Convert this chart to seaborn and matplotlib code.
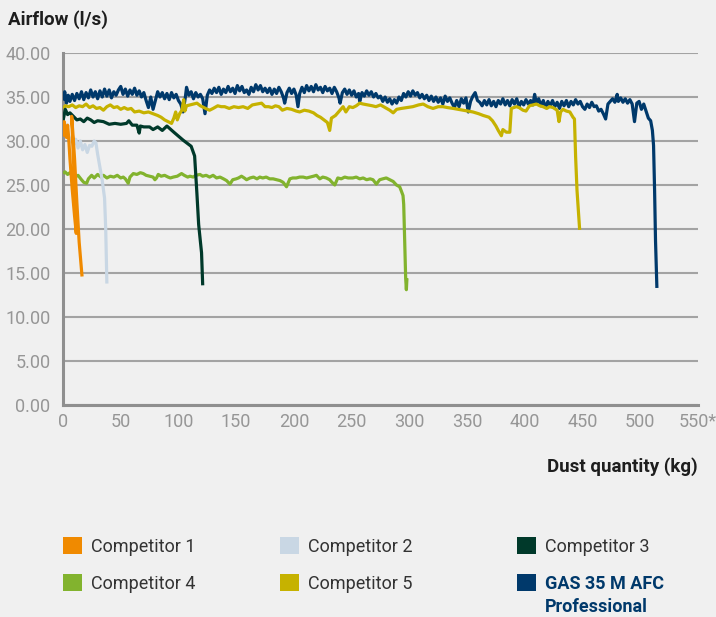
import matplotlib
matplotlib.use("Agg")
import matplotlib.pyplot as plt
from matplotlib.patches import Patch
import numpy as np
import pandas as pd
import seaborn as sns

# ---------------- data ----------------
series_names = ["Competitor 1", "Competitor 2", "Competitor 3",
                "Competitor 4", "Competitor 5", "GAS 35 M AFC"]
colors = ["#F08A00", "#C9D7E4", "#00392A", "#82B32E", "#C6B200", "#00396B"]

x_ticks = [0, 50, 100, 150, 200, 250, 300, 350, 400, 450, 500, 550]
x_tick_labels = ["0", "50", "100", "150", "200", "250", "300", "350",
                 "400", "450", "500", "550*"]
y_ticks = [0, 5, 10, 15, 20, 25, 30, 35, 40]

c1_kg = [0, 1, 2, 3, 4, 5, 6, 8, 10, 11.5, 9.5, 7.5, 8.5, 10, 12, 14, 16.5]
c1_flow = [30.5, 32.2, 31.0, 30.4, 31.8, 30.2, 28.0, 24.5, 21.5, 19.5,
           26.5, 32.8, 31.0, 28.0, 23.0, 18.5, 14.6]

c2_kg = [0, 1.5, 3, 5, 7, 9, 11, 13, 15, 17, 19, 21, 23, 25, 27, 28.5,
         30, 32, 34, 36, 37, 38]
c2_flow = [31.0, 32.0, 31.5, 30.5, 30.0, 29.5, 30.2, 29.2, 30.0, 29.0,
           29.6, 28.7, 29.5, 29.4, 30.0, 29.8, 28.5, 27.0, 25.5, 23.5,
           20.0, 13.8]

c3_kg = [0, 2, 4, 6, 9, 12, 15, 18, 21, 24, 27, 30, 35, 40, 45, 50, 55, 57,
         60, 64, 66, 67, 70, 75, 78, 82, 86, 90, 96, 104, 111, 114, 116,
         117.5, 120, 121]
c3_flow = [32.3, 33.6, 33.0, 33.2, 32.8, 32.4, 32.5, 32.2, 32.6, 32.4, 32.1,
           32.3, 32.2, 31.9, 32.0, 31.9, 32.0, 32.3, 31.8, 31.8, 30.9, 31.7,
           31.6, 31.6, 31.3, 31.6, 31.2, 31.7, 31.0, 30.1, 29.4, 28.3, 24.0,
           20.5, 17.3, 13.6]

c4_kg = [0, 1.7, 4, 6, 8, 10.4, 13, 16, 18, 20.5, 22, 24.8, 27, 30, 33, 35,
         38, 41, 44, 47, 50, 52.2, 54, 56.5, 58, 60.9, 64, 67, 69.5, 72, 75,
         78, 79.6, 81, 82.5, 85, 88, 91, 93, 95.5, 99, 102.7, 105, 108, 110,
         112.8, 115, 118.6, 121, 124, 127, 130, 133, 136, 139, 141.7, 144.6,
         147, 150, 152, 154.6, 157, 159, 162, 165, 168, 170.5, 173, 176, 179,
         182, 185, 188, 190.7, 193.6, 196.5, 199, 202, 205, 208, 211, 214,
         217, 219.5, 222.4, 225, 228, 231, 233, 235.4, 238, 241, 244, 247,
         251, 254, 257, 260, 263, 266, 268.5, 271.4, 274.3, 277, 280, 283,
         286, 288.8, 291.6, 293.1, 294.5, 295.1, 296, 296.8, 297.4, 297.9]
c4_flow = [26.3, 26.5, 26.2, 26.4, 26.0, 25.9, 26.1, 25.6, 25.3, 25.2, 25.7,
           26.1, 25.8, 26.2, 25.9, 26.1, 25.8, 26.0, 25.9, 26.1, 25.8, 25.9,
           25.7, 25.2, 25.9, 26.3, 26.2, 26.4, 26.3, 26.1, 26.0, 25.9, 25.6,
           25.8, 26.2, 26.0, 26.1, 25.9, 25.8, 25.9, 26.0, 26.3, 26.1, 25.9,
           26.0, 25.9, 26.1, 26.2, 26.0, 26.1, 25.9, 26.1, 25.8, 25.9, 25.7,
           25.5, 25.1, 25.6, 25.7, 25.8, 26.0, 25.8, 25.6, 25.8, 25.9, 25.7,
           25.9, 25.8, 25.9, 25.7, 25.7, 25.6, 25.5, 25.3, 24.8, 25.7, 25.8,
           25.8, 25.9, 25.9, 25.8, 25.9, 26.0, 26.1, 25.7, 25.9, 25.8, 25.6,
           25.3, 25.0, 25.8, 25.7, 25.9, 25.8, 25.8, 25.9, 25.7, 25.8, 25.6,
           25.7, 25.6, 25.1, 25.6, 25.7, 25.8, 25.6, 25.4, 25.0, 24.8, 24.3,
           23.8, 22.8, 18.4, 14.4, 13.1, 14.4]

c5_kg = [0, 2, 5, 8, 11, 14, 17, 20, 23, 26, 29, 32, 35, 38, 41, 44, 47, 50,
         53, 56, 59, 62, 66, 70, 74, 78, 82, 85, 88, 91, 94, 96, 97.6, 99,
         101, 103, 104.5, 105.5, 107, 110, 113, 116, 119, 122, 125, 127, 130,
         134, 137, 140, 144, 148, 152, 156, 160, 164, 168, 172, 175, 178,
         181, 184, 187, 190, 194, 198, 202, 205, 209, 213, 217, 220, 223,
         226, 229, 231, 232.5, 236, 240, 242.6, 245, 248, 251, 254, 257, 260,
         264, 268, 271, 275, 279, 283, 286, 289, 293, 298, 303, 308, 312,
         316, 320.5, 325, 329, 333, 338, 342, 346.5, 351, 355, 360, 364, 369,
         372, 375, 377, 379.7, 381, 384, 387, 388.3, 392.6, 395, 398.4, 401,
         404, 410, 413, 415.7, 419, 421.5, 424.4, 428, 429.6, 431, 433, 436,
         439, 441.7, 443, 444, 445.2, 447.5]
c5_flow = [33.7, 34.0, 33.9, 34.1, 33.8, 34.0, 33.9, 34.2, 33.8, 34.0, 33.7,
           33.8, 33.5, 33.9, 34.1, 33.8, 33.9, 33.6, 33.8, 33.6, 33.7, 33.3,
           33.4, 33.2, 33.3, 33.1, 32.9, 32.7, 32.4, 32.2, 32.0, 32.6, 33.3,
           32.4, 33.1, 33.5, 34.7, 33.4, 34.0, 34.1, 34.2, 34.3, 34.0, 33.8,
           33.6, 33.5, 33.7, 34.0, 33.9, 33.9, 33.7, 33.9, 33.8, 33.9, 33.7,
           34.1, 34.2, 34.3, 33.9, 33.9, 33.8, 34.0, 33.9, 33.5, 33.7, 33.6,
           33.4, 33.3, 33.5, 33.4, 33.2, 32.9, 32.7, 32.4, 32.1, 31.2, 32.6,
           32.9, 33.5, 33.9, 33.3, 33.9, 33.8, 34.0, 34.3, 34.2, 34.1, 34.0,
           33.9, 34.1, 33.8, 33.5, 33.2, 33.6, 33.7, 33.8, 33.9, 34.1, 34.2,
           33.9, 33.7, 33.9, 33.9, 33.8, 33.7, 33.6, 33.5, 33.4, 33.3, 33.1,
           32.9, 32.7, 32.3, 31.7, 31.2, 30.6, 31.3, 31.0, 31.0, 33.7, 33.9,
           33.8, 33.5, 33.4, 34.0, 34.2, 34.0, 33.9, 33.7, 33.9, 33.8, 33.5,
           32.2, 33.3, 33.6, 33.4, 33.3, 32.7, 32.5, 28.2, 24.4, 19.9]

gas_kg = [0, 1.5, 3, 4.5, 6, 8, 10, 12, 14, 16, 18, 20, 22, 24, 26, 28, 30,
          32, 34, 36, 38, 40, 42, 44, 46, 48, 50, 52, 54, 56, 58, 60, 62, 64,
          66, 68, 70, 72, 74, 76, 78, 80, 82, 84, 86, 88, 90, 92, 94, 96, 98,
          100, 102, 104, 106, 107, 109, 111, 113, 115, 117, 119, 121, 123,
          125, 127, 129, 131, 133, 135, 137, 139, 141, 143, 145, 147, 149,
          151, 153, 155, 157, 159, 161, 163, 165, 167, 169, 171, 173, 175,
          177, 179, 181, 183, 185, 187, 189, 191, 192, 194, 196, 198, 200,
          202, 203.5, 205, 207, 209, 211, 213, 215, 217, 219, 221, 223, 225,
          227, 229, 231, 233, 235, 237, 239, 240, 242, 244, 246, 248, 250,
          252, 254, 256, 257, 259, 261, 263, 265, 267, 269, 271, 273, 275,
          277, 279, 281, 283, 285, 287, 289, 291, 293, 295, 297, 299, 301,
          303, 305, 307, 309, 311, 313, 315, 317, 319, 321, 323, 325, 327,
          329, 331, 333, 335, 337, 339, 341, 343, 345, 347, 349, 351, 353,
          355, 357, 359, 361, 363, 365, 367, 369, 371, 373, 375, 377, 379,
          381, 383, 385, 387, 389, 391, 393, 395, 397, 399, 401, 403, 405,
          407, 408.5, 410, 412, 414, 416, 418, 420, 422, 424, 426, 428, 430,
          432, 434, 436, 438, 440, 442, 444, 446, 448, 450, 452, 454, 456,
          458, 460, 462, 464, 466, 468, 470, 472, 474, 476, 478, 480, 481,
          483, 485, 487, 489, 491, 493, 495, 497, 499, 501, 503, 505, 507,
          509, 510.5, 511.5, 512.4, 513.2, 514.4]
gas_flow = [34.6, 35.6, 34.3, 35.2, 34.5, 35.3, 34.6, 35.4, 34.8, 35.6, 34.7,
            35.5, 34.9, 35.8, 35.0, 35.6, 34.8, 35.7, 35.0, 35.9, 35.1, 35.8,
            34.9, 35.6, 35.2, 35.8, 36.2, 35.3, 35.9, 35.1, 35.8, 35.3, 36.0,
            35.2, 35.7, 35.0, 35.5, 34.6, 33.8, 35.0, 33.6, 34.6, 35.6, 35.0,
            35.5, 34.8, 35.4, 34.7, 35.5, 34.9, 35.3, 34.6, 34.2, 33.3, 35.0,
            36.1, 35.2, 35.6, 34.8, 35.5, 35.0, 35.3, 34.8, 33.1, 35.2, 35.8,
            35.4, 36.0, 35.5, 36.1, 35.3, 35.9, 35.5, 36.2, 35.6, 36.0, 35.4,
            36.3, 35.7, 36.2, 35.5, 35.8, 35.3, 36.1, 35.6, 36.4, 35.8, 36.3,
            35.6, 36.0, 35.5, 36.0, 35.3, 35.9, 35.4, 36.1, 35.6, 34.9, 34.3,
            35.5, 36.0, 35.4, 35.9, 35.2, 33.9, 35.4, 36.1, 35.5, 36.3, 35.7,
            36.2, 35.6, 36.4, 35.8, 36.1, 35.5, 36.2, 35.7, 36.0, 35.4, 36.1,
            35.6, 34.9, 34.3, 35.5, 35.9, 35.3, 35.8, 35.2, 35.7, 35.0, 35.4,
            34.5, 35.5, 35.1, 35.7, 35.2, 35.6, 35.0, 35.4, 34.9, 35.1, 34.5,
            35.0, 34.4, 34.8, 34.2, 34.7, 34.3, 35.0, 34.6, 35.4, 35.0, 35.6,
            35.1, 35.7, 35.2, 35.5, 34.9, 35.3, 34.8, 35.2, 34.6, 35.1, 34.5,
            35.0, 34.4, 34.9, 34.2, 35.1, 34.5, 34.9, 34.3, 33.8, 34.6, 33.9,
            34.8, 34.3, 34.9, 33.3, 34.5, 35.1, 35.5, 34.6, 34.4, 34.0, 34.6,
            34.1, 34.7, 34.0, 34.5, 33.9, 34.6, 34.2, 34.8, 34.1, 34.6, 34.0,
            34.7, 34.2, 34.8, 33.9, 34.5, 34.1, 34.7, 34.2, 34.6, 34.1, 35.3,
            34.3, 34.8, 34.0, 34.6, 33.8, 34.5, 34.0, 34.6, 33.9, 34.4, 33.7,
            34.5, 34.0, 34.6, 33.9, 34.5, 34.1, 34.7, 34.2, 34.5, 33.9, 33.6,
            34.2, 33.8, 34.4, 33.9, 34.0, 33.4, 33.6, 33.1, 32.5, 34.2, 34.5,
            34.8, 34.4, 35.3, 34.5, 34.9, 34.4, 34.8, 34.3, 34.7, 34.2, 32.2,
            34.3, 34.5, 33.6, 34.2, 33.4, 32.6, 32.3, 31.2, 29.5, 24.4, 18.7,
            13.3]

# ---------------- build long table ----------------
all_kg = [c1_kg, c2_kg, c3_kg, c4_kg, c5_kg, gas_kg]
all_flow = [c1_flow, c2_flow, c3_flow, c4_flow, c5_flow, gas_flow]
frames = []
for name, xs, ys in zip(series_names, all_kg, all_flow):
    frames.append(pd.DataFrame({"series": name, "kg": xs, "airflow": ys,
                                "order": range(len(xs))}))
df = pd.concat(frames, ignore_index=True)

palette = dict(zip(series_names, colors))

# ---------------- styling ----------------
bg = "#f0f0f0"
sns.set_style("white", {"axes.facecolor": bg, "figure.facecolor": bg})
plt.rcParams["font.family"] = ["Roboto", "DejaVu Sans"]

fig = plt.figure(figsize=(7.16, 6.17), dpi=100, facecolor=bg)
ax = fig.add_axes([63 / 716, 1 - 405 / 617, (698 - 63) / 716, (405 - 53) / 617])
ax.set_facecolor(bg)

draw_order = series_names[::-1]  # GAS at bottom, Competitor 1 on top
sns.lineplot(data=df, x="kg", y="airflow", hue="series", hue_order=draw_order,
             palette=palette, estimator=None, sort=False, units="series",
             linewidth=2.3, legend=False, ax=ax)
for ln in ax.lines:
    ln.set_solid_joinstyle("round")
    ln.set_solid_capstyle("butt")

ax.set_xlim(0, 550)
ax.set_ylim(0, 40)
ax.set_xticks(x_ticks)
ax.set_xticklabels(x_tick_labels)
ax.set_yticks(y_ticks)
ax.set_yticklabels([f"{v:.2f}" for v in y_ticks])
ax.set_xlabel("")
ax.set_ylabel("")

grid_c = "#a3a3a3"
ax.yaxis.grid(True, color=grid_c, linewidth=1.5, zorder=0)
ax.xaxis.grid(False)
ax.set_axisbelow(True)
for s in ["top", "right"]:
    ax.spines[s].set_visible(False)
for s in ["left", "bottom"]:
    ax.spines[s].set_color("#8f8f8f")
    ax.spines[s].set_linewidth(2.2)
    ax.spines[s].set_zorder(1)

tick_c = "#969696"
ax.tick_params(axis="x", direction="inout", length=10, width=1.6,
               color="#8f8f8f", labelsize=13, labelcolor=tick_c, pad=1)
ax.tick_params(axis="y", length=0, labelsize=13, labelcolor=tick_c, pad=9)
for lab in ax.get_xticklabels() + ax.get_yticklabels():
    lab.set_fontweight("normal")

fig.text(8 / 716, 1 - 20 / 617, "Airflow (l/s)", ha="left", va="center",
         fontsize=13.5, fontweight="bold", color="#1e1e1e")
fig.text(698 / 716, 1 - 467 / 617, "Dust quantity (kg)", ha="right",
         va="center", fontsize=13.5, fontweight="bold", color="#1e1e1e")

# ---------------- legend (three columns) ----------------
legend_cols = [(0, 3), (1, 4), (2, 5)]
col_x = [63 / 716, 280 / 716, 517 / 716]
for (i, j), cx in zip(legend_cols, col_x):
    handles = [Patch(facecolor=colors[i], edgecolor="none"),
               Patch(facecolor=colors[j], edgecolor="none")]
    labels = [series_names[i], series_names[j]]
    leg = fig.legend(handles, labels, loc="upper left",
                     bbox_to_anchor=(cx, 1 - 537 / 617), frameon=False,
                     borderpad=0, borderaxespad=0, handlelength=1.05,
                     handleheight=1.05, handletextpad=0.5, labelspacing=1.05,
                     prop={"size": 13})
    for t in leg.get_texts():
        t.set_color("#333333")
        if t.get_text().startswith("GAS"):
            t.set_color("#00396B")
            t.set_fontweight("bold")

fig.text(545 / 716, 1 - 607 / 617, "Professional", ha="left", va="center",
         fontsize=13, fontweight="bold", color="#00396B")

fig.savefig("out.png", dpi=100, facecolor=bg)
